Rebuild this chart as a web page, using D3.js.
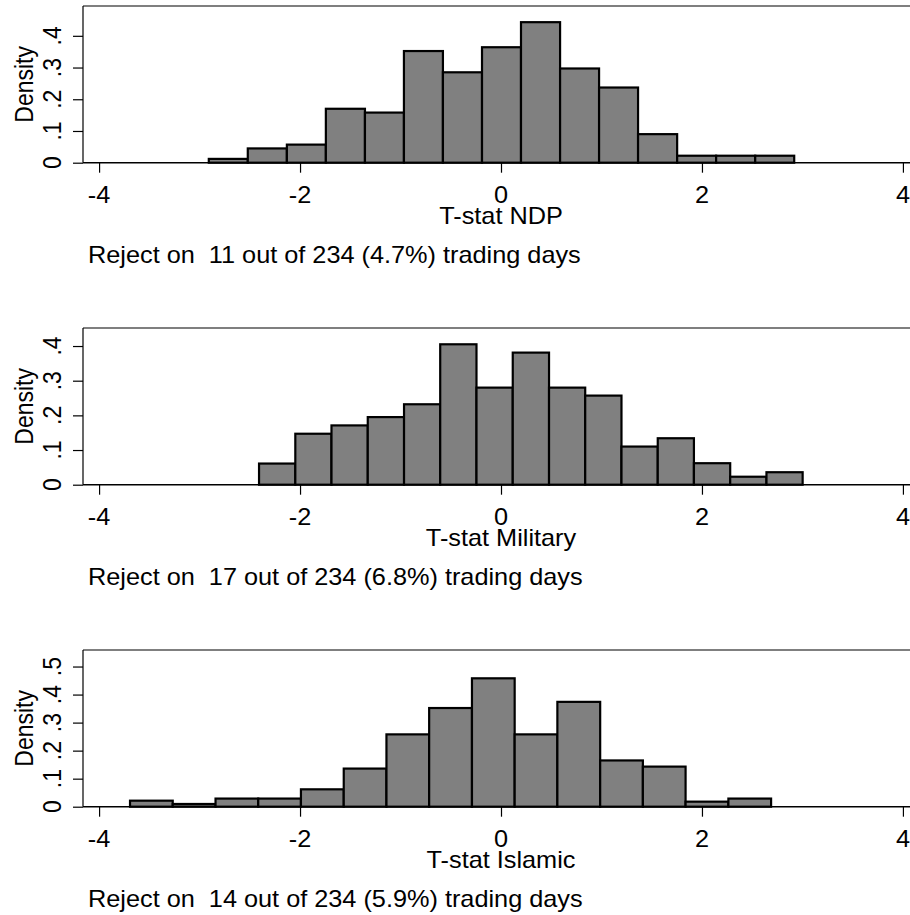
<!DOCTYPE html>
<meta charset="utf-8">
<style>
  body { margin: 0; background: #fff; }
  text { font-family: "Liberation Sans", Arial, sans-serif; fill: #000; white-space: pre; }
</style>
<script src="https://d3js.org/d3.v7.min.js"></script>
<body>
<script>

// panel titles and notes
var titles = ["T-stat NDP", "T-stat Military", "T-stat Islamic"];
var notes = [
  "Reject on  11 out of 234 (4.7%) trading days",
  "Reject on  17 out of 234 (6.8%) trading days",
  "Reject on  14 out of 234 (5.9%) trading days"
];

// bin edges
var ndpEdges = [-2.908, -2.520, -2.131, -1.743, -1.354, -0.966, -0.578, -0.189,
  0.199, 0.588, 0.976, 1.364, 1.753, 2.141, 2.530, 2.918];
var militaryEdges = [-2.408, -2.047, -1.687, -1.326, -0.965, -0.605, -0.244, 0.117,
  0.478, 0.838, 1.199, 1.560, 1.920, 2.281, 2.642, 3.002];
var islamicEdges = [-3.692, -3.267, -2.841, -2.416, -1.991, -1.565, -1.140, -0.715,
  -0.289, 0.136, 0.561, 0.987, 1.412, 1.837, 2.263, 2.688];

// densities per bin
var ndpDensity = [0.012, 0.045, 0.057, 0.170, 0.158, 0.352, 0.285, 0.364,
  0.443, 0.297, 0.237, 0.090, 0.022, 0.022, 0.022];
var militaryDensity = [0.061, 0.147, 0.171, 0.195, 0.232, 0.405, 0.280, 0.381,
  0.280, 0.257, 0.110, 0.134, 0.062, 0.023, 0.036];
var islamicDensity = [0.0215, 0.0097, 0.029, 0.029, 0.062, 0.136, 0.258, 0.352,
  0.458, 0.258, 0.374, 0.165, 0.143, 0.018, 0.029];

// axis ticks / ranges
var xTicks = [-4, -2, 0, 2, 4];
var xDomain = [-4.16, 4.16];
var yTicksSmall = [0, 0.1, 0.2, 0.3, 0.4];
var yTicksBig = [0, 0.1, 0.2, 0.3, 0.4, 0.5];
var yMaxes = [0.494, 0.452, 0.559];

var panels = [
  { edges: ndpEdges, dens: ndpDensity, yTicks: yTicksSmall },
  { edges: militaryEdges, dens: militaryDensity, yTicks: yTicksSmall },
  { edges: islamicEdges, dens: islamicDensity, yTicks: yTicksBig }
];

var W = 910, H = 915;
var left = 83, right = 919;
var panelTop = 6, plotH = 156.7, panelStep = 322;
var fs = 23, sx = 1.1;

var svg = d3.select("body").append("svg")
    .attr("width", W)
    .attr("height", H);

var x = d3.scaleLinear().domain(xDomain).range([left, right]);

function fmtY(v) {
  if (v === 0) return "0";
  return d3.format(".1f")(v).replace(/^0/, "");
}

// horizontal text, a bit stretched sideways like the original
function hText(g, px, py, str, anchor) {
  g.append("g")
      .attr("transform", "translate(" + px + "," + py + ") scale(" + sx + ",1)")
    .append("text")
      .attr("text-anchor", anchor)
      .attr("font-size", fs)
      .attr("xml:space", "preserve")
      .text(str);
}

function vText(g, px, py, str) {
  g.append("g")
      .attr("transform", "translate(" + px + "," + py + ") scale(" + sx + ",1) rotate(-90)")
    .append("text")
      .attr("text-anchor", "middle")
      .attr("font-size", fs)
      .text(str);
}

panels.forEach(function(p, i) {
  var top = panelTop + i * panelStep;
  var base = top + plotH;
  var y = d3.scaleLinear().domain([0, yMaxes[i]]).range([base, top]);
  var g = svg.append("g");

  var bins = p.dens.map(function(d, k) {
    return { x0: p.edges[k], x1: p.edges[k + 1], d: d };
  });

  // bars
  g.selectAll("rect.bar")
      .data(bins)
      .enter()
      .append("rect")
      .attr("class", "bar")
      .attr("x", function(d) { return x(d.x0); })
      .attr("width", function(d) { return x(d.x1) - x(d.x0); })
      .attr("y", function(d) { return y(d.d); })
      .attr("height", function(d) { return base - y(d.d); })
      .attr("fill", "#808080")
      .attr("stroke", "#000")
      .attr("stroke-width", 2.2);

  // plot frame: top line
  g.append("line")
      .attr("x1", left).attr("x2", W + 10)
      .attr("y1", top).attr("y2", top)
      .attr("stroke", "#000").attr("stroke-width", 1.2);

  // x axis
  var xAxis = d3.axisBottom(x).tickValues(xTicks).tickSize(10).tickFormat("");
  var xg = g.append("g")
      .attr("transform", "translate(0," + base + ")")
      .call(xAxis);
  xg.select(".domain").attr("d", "M" + left + ",0H" + (W + 10))
      .attr("stroke", "#000").attr("stroke-width", 1.5);
  xg.selectAll(".tick line").attr("stroke", "#000").attr("stroke-width", 1.2);

  // y axis
  var yAxis = d3.axisLeft(y).tickValues(p.yTicks).tickSize(10).tickFormat("");
  var yg = g.append("g")
      .attr("transform", "translate(" + left + ",0)")
      .call(yAxis);
  yg.select(".domain").attr("d", "M0," + top + "V" + base)
      .attr("stroke", "#000").attr("stroke-width", 1.2);
  yg.selectAll(".tick line").attr("stroke", "#000").attr("stroke-width", 1.2);

  // tick labels
  xTicks.forEach(function(t) {
    hText(g, x(t), base + 40.5, t < 0 ? "-" + Math.abs(t) : String(t), "middle");
  });
  p.yTicks.forEach(function(t) {
    vText(g, 61, y(t), fmtY(t));
  });

  vText(g, 33, (top + base) / 2, "Density");
  hText(g, x(0), base + 61, titles[i], "middle");
  hText(g, 88, base + 100.5, notes[i], "start");
});

</script>
</body>
